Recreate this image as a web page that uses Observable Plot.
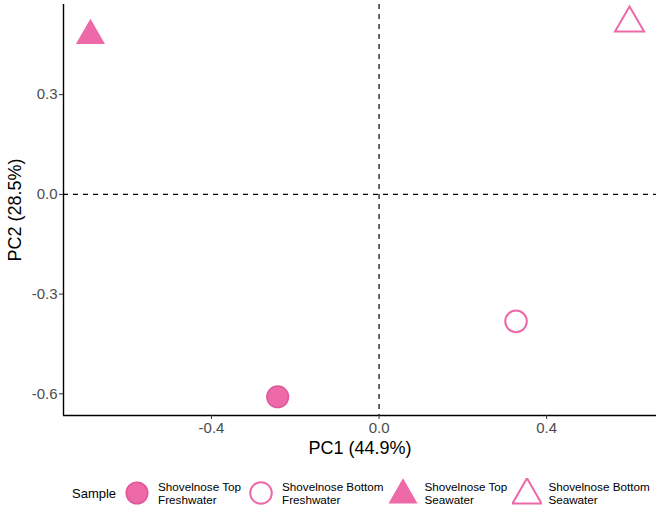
<!DOCTYPE html>
<html>
<head>
<meta charset="utf-8">
<script src="https://cdn.jsdelivr.net/npm/d3@7"></script>
<script src="https://cdn.jsdelivr.net/npm/@observablehq/plot@0.6"></script>
<style>
  html, body { margin: 0; padding: 0; background: #fff; }
  body { width: 661px; height: 510px; overflow: hidden; font-family: "Liberation Sans", Arial, Helvetica, sans-serif; }
  #chart svg { display: block; }
  #legend { height: 50px; box-sizing: border-box; padding: 16px 0 0 72px; display: flex; align-items: center; color: #000; }
  #legend .title { font-size: 13px; margin-right: 6px; }
  #legend .item { display: flex; align-items: center; margin-right: 5px; }
  #legend .item svg { display: block; width: 30px; height: 30px; margin-right: 6px; }
  #legend .item span { font-size: 11.7px; line-height: 13px; white-space: pre; }
</style>
</head>
<body>
<div id="chart"></div>
<div id="legend"></div>
<script>
// PCA scores for the four sturgeon skin samples
const samples = [
  "Shovelnose Top Freshwater",
  "Shovelnose Bottom Freshwater",
  "Shovelnose Top Seawater",
  "Shovelnose Bottom Seawater"
];
const position = ["Top", "Bottom", "Top", "Bottom"];
const water = ["Freshwater", "Freshwater", "Seawater", "Seawater"];
const pc1 = [-0.242, 0.327, -0.689, 0.598];
const pc2 = [-0.609, -0.382, 0.478, 0.515];

const xTicks = [-0.4, 0.0, 0.4];
const yTicks = [-0.6, -0.3, 0.0, 0.3];
const xLabel = "PC1 (44.9%)";
const yLabel = "PC2 (28.5%)";
const legendTitle = "Sample";

const pink = "#ee69a8";
const pinkEdge = "#e0579a";

const rows = samples.map((s, i) => ({
  sample: s, position: position[i], water: water[i], pc1: pc1[i], pc2: pc2[i]
}));

// ggplot-style 5% padding around the data range
function padded(values) {
  const [lo, hi] = d3.extent(values);
  const pad = (hi - lo) * 0.05;
  return [lo - pad, hi + pad];
}
const xDomain = padded(pc1);
const yDomain = padded(pc2);

const symbolOf = d => d.water === "Freshwater" ? "circle" : "triangle";
const fmt = d => d.toFixed(1);

const plot = Plot.plot({
  width: 661,
  height: 460,
  marginLeft: 63,
  marginRight: 5,
  marginTop: 4,
  marginBottom: 45,
  style: { fontFamily: "Liberation Sans, Arial, Helvetica, sans-serif", background: "#fff", color: "#000" },
  x: { domain: xDomain },
  y: { domain: yDomain },
  marks: [
    // axis lines along the lower and left edges of the panel
    Plot.ruleY([yDomain[0]], { stroke: "#000", strokeWidth: 1.4 }),
    Plot.ruleX([xDomain[0]], { stroke: "#000", strokeWidth: 1.4 }),
    // reference lines through the origin
    Plot.ruleX([0], { stroke: "#000", strokeWidth: 1.2, strokeDasharray: "5,5" }),
    Plot.ruleY([0], { stroke: "#000", strokeWidth: 1.2, strokeDasharray: "5,5" }),
    Plot.axisX({ ticks: xTicks, tickFormat: fmt, tickSize: 4, tickPadding: 3, fontSize: 15,
      fill: "#4d4d4d", stroke: "#333", label: null }),
    Plot.axisY({ ticks: yTicks, tickFormat: fmt, tickSize: 4, tickPadding: 2, fontSize: 15,
      fill: "#4d4d4d", stroke: "#333", label: null }),
    Plot.text([xLabel], { frameAnchor: "bottom", dy: 33, fontSize: 18, fill: "#000", lineAnchor: "middle" }),
    Plot.text([yLabel], { frameAnchor: "left", dx: -48, rotate: -90, fontSize: 18, fill: "#000",
      textAnchor: "middle", lineAnchor: "middle" }),
    // top-of-fin samples: solid symbols
    Plot.dot(rows.filter(d => d.position === "Top"), {
      x: "pc1", y: "pc2", symbol: symbolOf, r: 10.8,
      fill: pink, stroke: d => d.water === "Freshwater" ? pinkEdge : "none", strokeWidth: 1.5
    }),
    // bottom-of-fin samples: open symbols
    Plot.dot(rows.filter(d => d.position === "Bottom"), {
      x: "pc1", y: "pc2", symbol: symbolOf, r: 10.8,
      fill: "none", stroke: pink, strokeWidth: 2
    })
  ]
});
document.getElementById("chart").append(plot);

// Legend for the sample key
const legend = document.getElementById("legend");
const title = document.createElement("span");
title.className = "title";
title.textContent = legendTitle;
legend.append(title);

rows.forEach(d => {
  const item = document.createElement("div");
  item.className = "item";
  const svg = d3.create("svg").attr("viewBox", "-15 -15 30 30");
  const path = d3.symbol(d.water === "Freshwater" ? d3.symbolCircle : d3.symbolTriangle, 10.8 * 10.8 * Math.PI)();
  const p = svg.append("path").attr("d", path);
  if (d.position === "Top") {
    p.attr("fill", pink).attr("stroke", d.water === "Freshwater" ? pinkEdge : "none").attr("stroke-width", 1.5);
  } else {
    p.attr("fill", "none").attr("stroke", pink).attr("stroke-width", 2);
  }
  if (d.water === "Seawater") p.attr("transform", "translate(0,2)");
  item.append(svg.node());
  const label = document.createElement("span");
  label.textContent = "Shovelnose " + d.position + "\n" + d.water;
  item.append(label);
  legend.append(item);
});
</script>
</body>
</html>
